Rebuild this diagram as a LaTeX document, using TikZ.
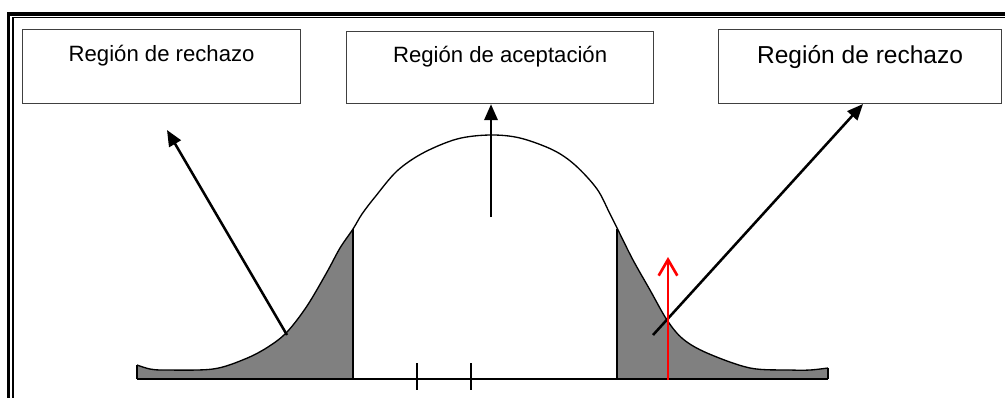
\documentclass[tikz,border=0pt]{standalone}
\usepackage{fontspec}
\setmainfont{Liberation Sans}
\usetikzlibrary{arrows.meta}
\begin{document}
\begin{tikzpicture}[x=0.75pt,y=-0.75pt,
  box/.style={draw=black!75, line width=0.9pt, inner sep=0pt, anchor=north west, align=center,
              font=\fontsize{16.6pt}{20pt}\selectfont},
  arr/.style={line width=1.9pt, -{Triangle[length=12pt,width=10pt]}},
  redarr/.style={red, line width=2pt, -{Straight Barb[length=12pt,width=14pt,line width=2pt]}},
  curveline/.style={line width=1pt},
  limit/.style={line width=1.9pt},
  tick/.style={line width=1.1pt},
  shade/.style={fill=black!50}]
\useasboundingbox (0,0) rectangle (1005,397);
\clip (0,0) rectangle (1005,397);
% frame
\draw[line width=2.3pt] (8.8,410) |- (1015,14);
\draw[line width=1pt] (12.9,410) |- (1015,17.5);
% boxes
\node[box, minimum width=208.5pt, minimum height=55.5pt, text height=24pt, text depth=31.5pt] (box1) at (22,29) {Región de rechazo};
\node[box, minimum width=230.25pt, minimum height=54pt, text height=23.25pt, text depth=30.75pt] (box2) at (346,31) {Región de aceptación};
\node[box, minimum width=212.25pt, minimum height=55.5pt, text height=25.5pt, text depth=30pt,
      font=\fontsize{18.4pt}{22pt}\selectfont] (box3) at (718,29) {Región de rechazo};
% curve
\def\curvepts{(137,365) (150,369) (165,370) (213,369) (245,359) (268,347) (287,332) (307,306) (327,272) (340,248) (353,229) (362,214) (375,197) (397,171) (423,153) (457,139) (490,135) (520,138) (553,150) (575,165) (597,189) (610,214) (619,232) (633,260) (650,290) (667,320) (683,339) (707,353) (750,368) (790,370) (810,370) (828,368)}
\begin{scope}
  \clip (137,0) rectangle (353,379) (617,0) rectangle (828,379);
  \fill[shade] plot[smooth, tension=0.55] coordinates {\curvepts} -- (828,379) -- (137,379) -- cycle;
\end{scope}
\draw[curveline] plot[smooth, tension=0.55] coordinates {\curvepts};
\draw[curveline] (828,368) -- (828,379);
\draw[curveline] (137,365) -- (137,379);
% limits and base
\coordinate (l1) at (353,229);
\coordinate (l1b) at (353,379);
\coordinate (r1) at (617,229);
\coordinate (r1b) at (617,379);
\draw[limit] (l1) -- (l1b);
\draw[limit] (r1) -- (r1b);
\coordinate (b0) at (137,379);
\coordinate (b1) at (828,379);
\draw[line width=2.2pt] (b0) -- (b1);
\coordinate (t1a) at (417,363); \coordinate (t1b) at (417,390);
\coordinate (t2a) at (471,363); \coordinate (t2b) at (471,390);
\draw[tick] (t1a) -- (t1b);
\draw[tick] (t2a) -- (t2b);
% arrows
\coordinate (la) at (287,335);
\coordinate (lb) at (167,130);
\draw[arr] (la) -- (lb);
\coordinate (ma) at (491,217);
\draw[arr] (ma) -- (box2.south -| ma);
\coordinate (ra) at (653,335);
\coordinate (rb) at (863,104);
\draw[arr] (ra) -- (rb);
\coordinate (ka) at (668,380);
\coordinate (kb) at (668,257);
\draw[redarr] (ka) -- (kb);
\end{tikzpicture}
\end{document}
